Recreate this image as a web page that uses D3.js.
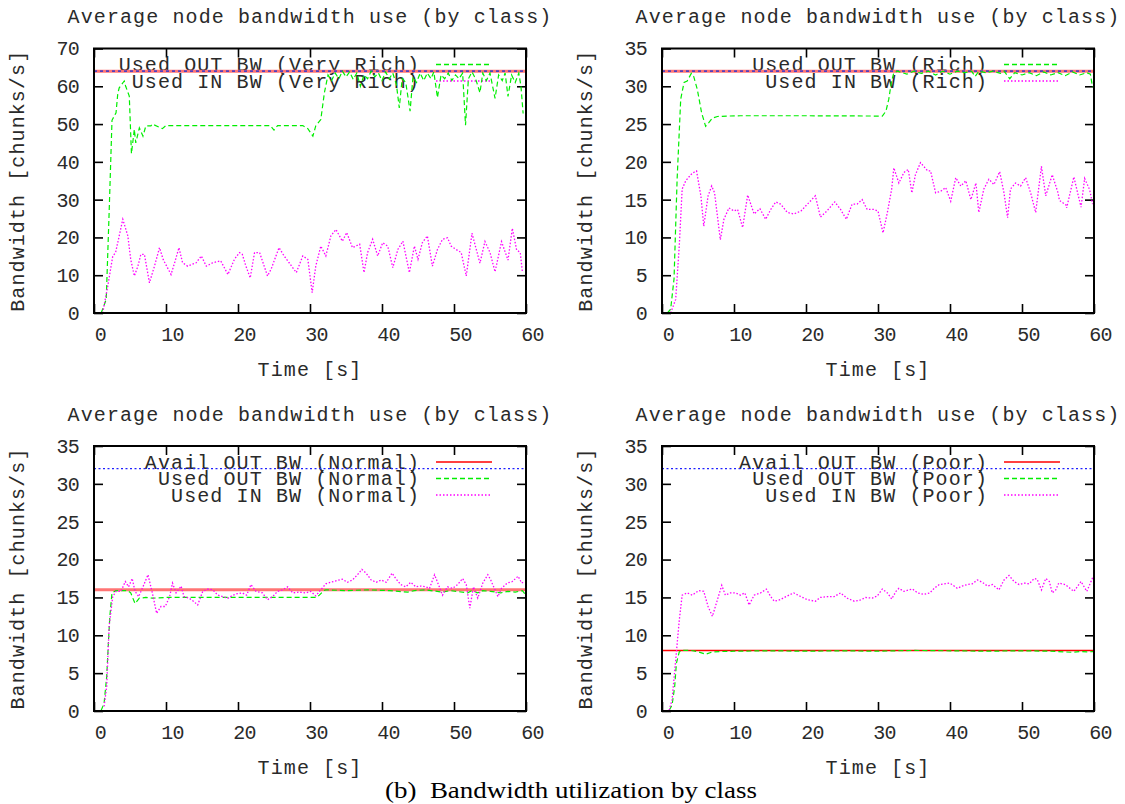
<!DOCTYPE html>
<html>
<head>
<meta charset="utf-8">
<script src="https://cdn.jsdelivr.net/npm/d3@7"></script>
<style>
  body { margin: 0; background: #fff; }
  svg { display: block; }
</style>
</head>
<body>
<script>
// values, [time s, chunks/s]
const classes = ["Very Rich", "Rich", "Normal", "Poor"];
const timeTicks = [0, 10, 20, 30, 40, 50, 60];
const yMaxes = [70, 35, 35, 35];
const yTickSteps = [10, 5, 5, 5];
const availOut = [64, 32, 16, 8];
const maxOut = [64, 32, 32, 32];
const showAvailKey = [false, false, true, true];

const usedOutVeryRich = [[1.0,0],[1.7,3.6],[2.1,26.5],[2.5,51],[3.06,53],[3.3,58],[3.5,59.6],[4.2,61.4],[4.4,60],[4.9,57.4],[5.2,42.2],[5.6,48.6],[5.8,45],[6.3,49],[6.8,46.8],[7.2,49.5],[7.9,49.5],[8.1,50],[9.5,48.8],[10,49.6],[24.5,49.6],[25,48.4],[25.5,49.6],[29,49.6],[29.7,48.8],[30.4,46.8],[30.8,49.5],[31.5,51.2],[32,58.3],[32.5,63],[33,61.5],[33.5,63.5],[34,62],[34.5,64],[35,62.5],[35.5,63.8],[36,61.8],[36.5,63.5],[37,60],[37.5,63],[38,62],[38.5,64],[39,62.5],[39.5,63.5],[40,61.5],[40.5,63.8],[41,62],[41.5,63.5],[42,60.5],[42.4,54.3],[42.8,62],[43.3,61],[43.9,53.4],[44.3,62.5],[44.8,61],[45.3,63.5],[45.8,61.5],[46.3,63.5],[46.8,62],[47.2,63.8],[47.7,57],[48.2,63],[48.7,62],[49.2,63.5],[49.7,61.5],[50.2,63],[50.7,62],[51.2,63.5],[51.6,49.7],[52,62],[52.5,63.8],[53,62],[53.6,58.3],[54,63.5],[54.5,61.5],[55,63.5],[55.7,56.8],[56.2,63],[56.7,61.5],[57.1,63.5],[57.5,57.3],[58,63],[58.5,61],[59,63.5],[59.3,60],[59.6,52.8]];
const usedInVeryRich = [[1.2,0],[1.9,7],[2.6,15],[3.0,16],[3.5,20.4],[4.0,24.8],[4.7,20.4],[5.1,14.2],[5.6,9.8],[6.1,12.4],[6.5,15.5],[7.0,15.5],[7.7,8],[8.4,12.4],[9.1,17.3],[9.6,14.2],[10.2,12],[10.7,10.2],[11.2,13.3],[11.8,17.3],[12.3,13.3],[13.0,12.4],[14.2,13.3],[14.9,15.1],[15.6,12.4],[16.5,13.3],[17.6,13.8],[18.6,10.2],[19.5,14.2],[20.2,16],[20.6,15.5],[21.1,12.4],[21.7,9.3],[22.3,16],[23.0,16],[24.1,9.8],[24.6,11.6],[25.7,17.3],[26.4,15.1],[27.1,13.3],[28.1,10.7],[29.0,15.1],[29.7,14.2],[30.3,5.4],[30.8,12.4],[31.5,17.7],[32.2,15.1],[32.9,20.4],[33.6,22.1],[34.5,19],[35.1,21.3],[35.9,17.3],[36.9,18.2],[37.5,10.7],[38.0,16],[38.7,19.5],[39.4,15.1],[40.1,18.6],[40.8,17.7],[41.5,12],[42.2,16.8],[42.9,19],[43.8,10.7],[44.5,17.7],[45.0,14.2],[45.6,18.6],[46.3,20.4],[47.0,12.4],[47.7,16.8],[48.4,19.5],[49.1,19.9],[49.6,17.7],[50.3,16.8],[51.0,16],[51.7,9.8],[52.5,21.1],[53.6,13.2],[54.3,18.9],[55.0,16],[55.7,10.9],[56.6,18.9],[57.5,14],[58.1,22.4],[58.7,16.7],[59.2,16],[59.5,10.9]];

const usedOutRich = [[0.74,0],[1.2,0.5],[1.67,4.5],[2.1,17.7],[2.6,28.3],[3.06,30.5],[3.5,30.7],[4.07,31.7],[4.4,31.3],[4.9,29.6],[5.5,26.5],[6.06,24.7],[6.5,25.2],[7.0,25.8],[7.7,26],[9.07,26.06],[10.9,26.1],[20,26.1],[30.6,26.06],[31.1,26.7],[31.5,28.3],[31.85,30.5],[32.2,31.8],[32.7,32],[34,31.6],[35,32],[36,31.7],[37,32],[38,31.5],[39,32],[40,31.6],[41,32],[42,31.8],[43,32],[43.5,31.3],[44,32],[45,31.8],[46,32],[47,31.7],[47.5,32],[48.3,31],[49,31.8],[50,31.5],[51,31.8],[52,31.4],[53,31.9],[54,31.5],[55,31.8],[56,31.4],[57,31.9],[58,31.5],[59,31.8],[59.5,31.6],[59.8,29.9]];
const usedInRich = [[1.2,0],[1.9,1.8],[2.4,8.9],[2.8,16.4],[3.3,17.5],[4.0,18.3],[4.4,18.6],[4.8,18.8],[5.4,15.5],[5.8,11.5],[6.4,15.5],[6.9,16.8],[7.3,15.9],[8.1,9.7],[8.6,12.4],[9.3,13.9],[10,13.5],[10.5,13.7],[11.2,11.3],[11.9,15.6],[12.8,13.1],[13.6,13.8],[14.4,12.4],[15.1,13.7],[15.8,14.7],[16.5,14.4],[17.4,13.3],[18.3,13.1],[19.3,13.5],[20.2,14.4],[21.3,15.5],[22.0,12.7],[22.9,13.5],[24,14.7],[24.8,13.7],[25.6,12.4],[26.4,14.4],[27.1,14.4],[27.8,15],[28.5,13.7],[29.4,13.7],[30,13.5],[30.7,10.6],[31.3,13.3],[31.9,16.4],[32.2,19.2],[32.9,17.2],[33.6,18.6],[34.2,19],[34.7,15.9],[35.2,18.3],[35.9,19.9],[36.9,18.8],[37.3,18.8],[38,15.9],[38.7,16.1],[39.4,16.6],[40.1,14.8],[40.8,17.9],[41.5,16.8],[42.2,17.5],[42.9,15],[43.6,17.2],[44,13.3],[44.7,16.4],[45.4,17.7],[46.1,17],[46.9,18.7],[47.5,15.9],[48,12.6],[48.4,16.4],[49.1,17.2],[49.8,16.8],[50.5,17.9],[51.2,15.9],[51.9,13.3],[52.7,19.4],[53.3,15.5],[54.2,18.3],[55,15.9],[55.2,14.9],[56.1,14.3],[56.2,13.9],[57.2,18],[58.2,14],[58.7,17.8],[59.4,16.3],[59.8,14.4]];

const usedOutNormal = [[1,0.1],[1.4,1],[1.76,4.5],[2.0,9],[2.2,12.5],[2.5,15.6],[3.06,15.9],[4.7,15.9],[5.1,15.6],[5.7,14.2],[6.3,14.9],[7.2,15],[8.1,14.9],[10,15],[20,15],[30.8,15],[31.3,15.3],[31.9,15.9],[32.2,16],[35,15.9],[38,16],[41,15.9],[43.6,15.7],[44.5,15.9],[46,16],[48.4,15.7],[49.5,15.9],[51.9,15.6],[52.5,15.9],[53.3,15.6],[54,15.9],[55.1,15.8],[56.5,15.6],[57.5,15.8],[58.5,15.7],[59.5,15.9],[59.9,15.4]];
const usedInNormal = [[1.4,0.6],[1.76,3.2],[2.1,11.2],[2.6,15.1],[3.06,15.8],[3.75,15.8],[4.35,17.1],[4.8,16.4],[5.3,17.5],[5.7,15.8],[6.2,15.1],[6.8,16.4],[7.5,18],[8.1,15.6],[8.7,12.9],[9.3,13.8],[9.9,13.8],[10.5,15.1],[10.9,16.9],[11.4,15.6],[12.1,16.5],[12.5,15.1],[13.2,14.9],[13.8,14.5],[14.4,14],[15.1,15.8],[15.8,16.1],[16.5,16],[17.2,15.3],[17.9,15.1],[18.6,14.9],[19.3,15.3],[19.9,15.5],[20.6,15.6],[21.2,15.3],[21.8,16.7],[22.5,15.8],[23.4,15.6],[24.1,14.7],[24.8,15.1],[25.5,15.8],[26.2,16],[26.9,16.4],[27.6,15.6],[28.5,15.7],[29.4,15.6],[30.1,15.8],[30.8,15.2],[31.5,16],[32.2,16.8],[32.9,17],[33.6,17.2],[34.5,17.4],[35.2,17],[35.9,17.3],[36.6,18],[37.2,18.7],[37.8,18.2],[38.5,17.3],[39.2,17],[39.9,17.3],[40.6,17],[41.4,18.2],[41.9,17.5],[42.6,16.7],[43.3,16.4],[44,17],[44.7,16.4],[45.4,16.5],[46.1,16.4],[46.6,16.2],[47.3,18],[47.96,16.4],[48.4,15.3],[49.1,16.4],[49.8,16.2],[50.5,16.7],[51.2,17.5],[51.7,16.7],[52.2,13.6],[52.7,16.4],[53.3,14.9],[54,16.9],[54.7,18],[55.1,17.3],[56.1,15.1],[56.6,16.2],[57.4,16.9],[58.1,17.1],[58.9,17.8],[59.4,16.9],[59.8,17.1]];

const usedOutPoor = [[1.0,0.1],[1.4,0.8],[1.76,3.2],[2.0,6.3],[2.4,7.8],[2.8,8],[4,8],[5.1,7.8],[6.1,7.5],[7.0,7.8],[8.1,7.85],[10,7.9],[15,7.95],[20,7.9],[25,7.95],[30,7.9],[35,8],[40,7.95],[45,7.9],[50,7.95],[54,7.9],[56,7.8],[57,7.75],[58,7.85],[59,7.8],[59.9,7.85]];
const usedInPoor = [[1,0.1],[1.4,1.5],[1.9,6.7],[2.4,12],[2.8,15.3],[3.5,15.6],[4.2,15.3],[5.1,15.9],[5.8,15.8],[6.4,13.8],[7.0,12.5],[7.7,14.7],[8.3,16.6],[8.8,15.3],[9.5,15.6],[10.2,15.6],[10.9,15.3],[11.5,15.6],[12.1,14],[12.8,15.3],[13.7,15.6],[14.5,16.1],[15.1,15.1],[15.6,14.5],[16.4,14.7],[17.2,15.1],[18.3,15.6],[19.3,15.1],[20.2,14.7],[21.3,14.5],[22,15],[23,15.1],[23.9,15.1],[24.8,15.6],[25.7,14.9],[26.7,14.5],[27.4,14.6],[28.3,15],[29.2,14.9],[29.9,15.2],[30.6,16.1],[31.3,15.6],[31.9,14.8],[32.5,15.8],[32.9,16.2],[33.6,15.8],[34.3,16],[34.8,16.1],[35.5,15.6],[36.4,15.4],[37.2,15.6],[37.8,16.2],[38.5,16.7],[39.2,16.8],[39.9,16.9],[40.3,16.7],[41,16.2],[41.7,16.5],[42.4,16.7],[43.1,16.8],[43.8,17.3],[44.5,17],[45.2,16.5],[45.9,16.7],[46.8,16],[47.5,17.3],[48.2,17.9],[48.9,17.1],[49.6,16.7],[50.3,16.9],[51,16.8],[51.7,17.5],[52.1,17.4],[52.7,16],[53.3,17.5],[53.8,17.1],[54.2,15.6],[54.7,16],[55.1,16.9],[56,16.7],[57.2,15.8],[58.2,17.1],[59,15.8],[59.9,17.8]];

const usedOutSeries = [usedOutVeryRich, usedOutRich, usedOutNormal, usedOutPoor];
const usedInSeries = [usedInVeryRich, usedInRich, usedInNormal, usedInPoor];

// layout
const W = 1125, H = 804;
const frames = [
  {left: 94, right: 526, top: 48.5, bottom: 313},
  {left: 662, right: 1094, top: 48.5, bottom: 313},
  {left: 94, right: 526, top: 446, bottom: 711},
  {left: 662, right: 1094, top: 446, bottom: 711}
];
const mono = "'Liberation Mono', 'DejaVu Sans Mono', monospace";
const textCol = "#2a2a2a";

const svg = d3.select("body").append("svg")
  .attr("width", W)
  .attr("height", H);

frames.forEach((f, i) => {
  const x = d3.scaleLinear().domain([0, 60]).range([f.left, f.right]);
  const y = d3.scaleLinear().domain([0, yMaxes[i]]).range([f.bottom, f.top]);
  const yTicks = d3.range(0, yMaxes[i] + 0.001, yTickSteps[i]);
  const g = svg.append("g");

  // ticks, inward on all four sides
  const styleAxis = sel => {
    sel.select(".domain").remove();
    sel.selectAll(".tick line").attr("stroke", "#000").attr("stroke-width", 1.6);
    sel.selectAll("text")
      .attr("font-family", mono)
      .attr("font-size", 20)
      .attr("letter-spacing", -0.7)
      .attr("fill", textCol);
  };
  g.append("g").attr("transform", `translate(0,${f.bottom})`)
    .call(d3.axisBottom(x).tickValues(timeTicks).tickSize(-9).tickPadding(14).tickFormat(d3.format("d")))
    .call(styleAxis)
    .selectAll("text").attr("dx", 6);
  g.append("g").attr("transform", `translate(0,${f.top})`)
    .call(d3.axisTop(x).tickValues(timeTicks).tickSize(-9).tickFormat(""))
    .call(styleAxis);
  g.append("g").attr("transform", `translate(${f.left},0)`)
    .call(d3.axisLeft(y).tickValues(yTicks).tickSize(-9).tickPadding(15).tickFormat(d3.format("d")))
    .call(styleAxis);
  g.append("g").attr("transform", `translate(${f.right},0)`)
    .call(d3.axisRight(y).tickValues(yTicks).tickSize(-9).tickFormat(""))
    .call(styleAxis);

  // titles
  const cx = (f.left + f.right) / 2, cy = (f.top + f.bottom) / 2;
  const label = (tx, ty, s) => g.append("text")
    .attr("x", tx).attr("y", ty)
    .attr("text-anchor", "middle")
    .attr("dominant-baseline", "central")
    .attr("font-family", mono)
    .attr("font-size", 20)
    .attr("letter-spacing", 1.1)
    .attr("fill", textCol)
    .text(s);
  label(cx, f.top - 31, "Average node bandwidth use (by class)");
  label(cx, f.bottom + 57, "Time [s]");
  label(0, 0, "Bandwidth [chunks/s]")
    .attr("transform", `translate(${f.left - 76},${cy}) rotate(-90)`);

  // key
  const keys = [];
  if (showAvailKey[i]) keys.push({name: `Avail OUT BW (${classes[i]})`, color: "#ff0000", dash: null, w: 1.3});
  keys.push({name: `Used OUT BW (${classes[i]})`, color: "#00ee00", dash: "5,3", w: 1.3});
  keys.push({name: `Used IN BW (${classes[i]})`, color: "#ff00ff", dash: "1.5,2", w: 1.5});
  keys.forEach((k, j) => {
    const ky = f.top + 17 + j * 16.5;
    g.append("text")
      .attr("x", f.right - 106).attr("y", ky)
      .attr("text-anchor", "end")
      .attr("dominant-baseline", "central")
      .attr("font-family", mono)
      .attr("font-size", 20)
      .attr("letter-spacing", 1.1)
      .attr("fill", textCol)
      .text(k.name);
    g.append("line")
      .attr("x1", f.right - 90).attr("x2", f.right - 34)
      .attr("y1", ky - 1).attr("y2", ky - 1)
      .attr("stroke", k.color)
      .attr("stroke-width", k.w)
      .attr("stroke-dasharray", k.dash);
  });

  const line = d3.line().x(d => x(d[0])).y(d => y(d[1]));

  // available and max lines
  const thin = i === 3;
  g.append("path")
    .datum([[0, availOut[i]], [60, availOut[i]]])
    .attr("d", line)
    .attr("fill", "none")
    .attr("stroke", thin ? "#ff0000" : "#ff7474")
    .attr("stroke-width", thin ? 1.4 : 3);
  g.append("path")
    .datum([[0, maxOut[i]], [60, maxOut[i]]])
    .attr("d", line)
    .attr("fill", "none")
    .attr("stroke", i < 2 ? "#5040c0" : "#2020ff")
    .attr("stroke-width", i < 2 ? 1.6 : 1.2)
    .attr("stroke-dasharray", i < 2 ? "3,3" : "2,2.5");

  g.append("path")
    .datum(usedOutSeries[i])
    .attr("d", line)
    .attr("fill", "none")
    .attr("stroke", "#00ee00")
    .attr("stroke-width", 1.2)
    .attr("stroke-dasharray", "5,3");
  g.append("path")
    .datum(usedInSeries[i])
    .attr("d", line)
    .attr("fill", "none")
    .attr("stroke", "#ff00ff")
    .attr("stroke-width", 1.3)
    .attr("stroke-dasharray", "1.5,1.8");

  // frame
  g.append("rect")
    .attr("x", f.left).attr("y", f.top)
    .attr("width", f.right - f.left).attr("height", f.bottom - f.top)
    .attr("fill", "none")
    .attr("stroke", "#000")
    .attr("stroke-width", 2);
});

svg.append("text")
  .attr("x", 571).attr("y", 798)
  .attr("text-anchor", "middle")
  .attr("font-family", "'Liberation Serif', 'Times New Roman', serif")
  .attr("font-size", 24)
  .attr("textLength", 372)
  .attr("lengthAdjust", "spacingAndGlyphs")
  .attr("fill", "#000")
  .style("white-space", "pre")
  .text("(b)  Bandwidth utilization by class");
</script>
</body>
</html>
